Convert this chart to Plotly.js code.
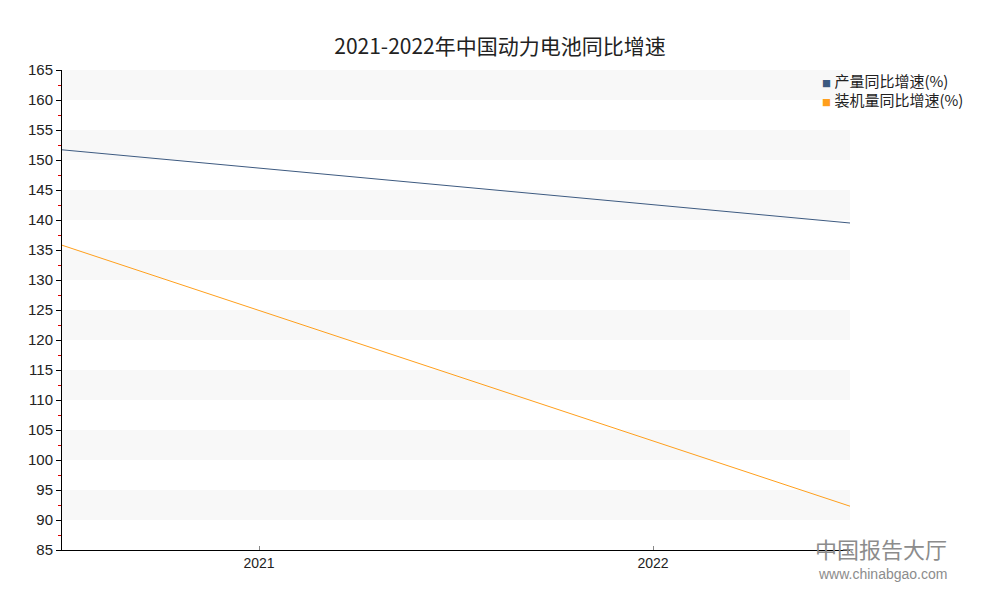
<!DOCTYPE html>
<html>
<head>
<meta charset="utf-8">
<script src="https://cdn.plot.ly/plotly-3.0.1.min.js"></script>
<style>
  body { margin: 0; background: #fff; }
  #graph { width: 1000px; height: 600px; }
</style>
</head>
<body>
<div id="graph"></div>
<script>
// years at the start and end of the drawn line
var years = [2021, 2022];
// labels on the x axis
var yearLabels = ['2021', '2022'];
// production year-on-year growth (%)
var outputGrowth = [151.7, 139.5];
// installed volume year-on-year growth (%)
var installGrowth = [135.8, 92.3];

var seriesNames = ['产量同比增速(%)', '装机量同比增速(%)'];
var seriesColors = ['#3d5a80', '#ff9f1c'];

// y range of the chart
var yMin = 85, yMax = 165;

// grey bands behind every other 5 unit step
var bands = [];
for (var y = yMax - 5; y >= yMin; y -= 10) {
    bands.push({
        type: 'rect', xref: 'paper', yref: 'y', layer: 'below',
        x0: 0, x1: 1, y0: y, y1: y + 5,
        fillcolor: '#f8f8f8', line: {width: 0}
    });
}

// x tick positions sit in the middle of each half of the line
var tickPos = [years[0] + 0.25, years[0] + 0.75];

var font = 'Noto Sans CJK SC, DejaVu Sans, sans-serif';
var numFont = 'Liberation Sans, Arial, sans-serif';

var traces = [
    {x: years, y: outputGrowth, mode: 'lines', name: seriesNames[0],
     line: {color: seriesColors[0], width: 1}, hoverinfo: 'y'},
    {x: years, y: installGrowth, mode: 'lines', name: seriesNames[1],
     line: {color: seriesColors[1], width: 1}, hoverinfo: 'y'}
];

// legend drawn as small coloured squares with the series names
var annotations = seriesNames.map(function(name, i) {
    return {
        xref: 'paper', yref: 'paper', x: 0.962, y: 0.979 - i * 0.0395,
        xanchor: 'left', yanchor: 'middle', showarrow: false,
        text: '<span style="color:' + seriesColors[i] + ';font-size:9px">■</span> ' + name,
        font: {family: font, size: 15, color: '#222'}
    };
});

// watermark
annotations.push(
    {xref: 'paper', yref: 'paper', x: 1.125, y: 0.005, xanchor: 'right', yanchor: 'middle',
     text: '中国报告大厅', showarrow: false,
     font: {family: font, size: 22, color: '#8c8c8c'}},
    {xref: 'paper', yref: 'paper', x: 1.125, y: -0.05, xanchor: 'right', yanchor: 'middle',
     text: 'www.chinabgao.com', showarrow: false,
     font: {family: numFont, size: 14, color: '#8c8c8c'}}
);

var layout = {
    width: 1000,
    height: 600,
    margin: {l: 62, r: 150, t: 70, b: 50},
    paper_bgcolor: '#fff',
    plot_bgcolor: '#fff',
    font: {family: font, size: 14, color: '#333'},
    title: {
        text: '2021-2022年中国动力电池同比增速',
        font: {family: font, size: 21, color: '#222'},
        x: 0.5, xanchor: 'center', y: 0.923, yanchor: 'middle'
    },
    showlegend: false,
    xaxis: {
        range: [years[0], years[1]],
        tickmode: 'array',
        tickvals: tickPos,
        ticktext: yearLabels,
        ticks: 'inside', ticklen: 4, tickcolor: '#888',
        showgrid: false, zeroline: false,
        showline: true, linecolor: '#000', linewidth: 1,
        tickfont: {family: numFont, size: 14, color: '#222'},
        fixedrange: true
    },
    yaxis: {
        range: [yMin, yMax],
        dtick: 5, tick0: 0,
        ticks: 'outside', ticklen: 5, tickcolor: '#000',
        showgrid: false, zeroline: false,
        showline: true, linecolor: '#000', linewidth: 1,
        tickfont: {family: numFont, size: 15, color: '#222'},
        minor: {ticks: 'outside', ticklen: 3, tickcolor: '#d00', dtick: 5, tick0: 2.5, showgrid: false},
        fixedrange: true
    },
    shapes: bands,
    annotations: annotations
};

Plotly.newPlot('graph', traces, layout, {displayModeBar: false, staticPlot: true});
</script>
</body>
</html>
